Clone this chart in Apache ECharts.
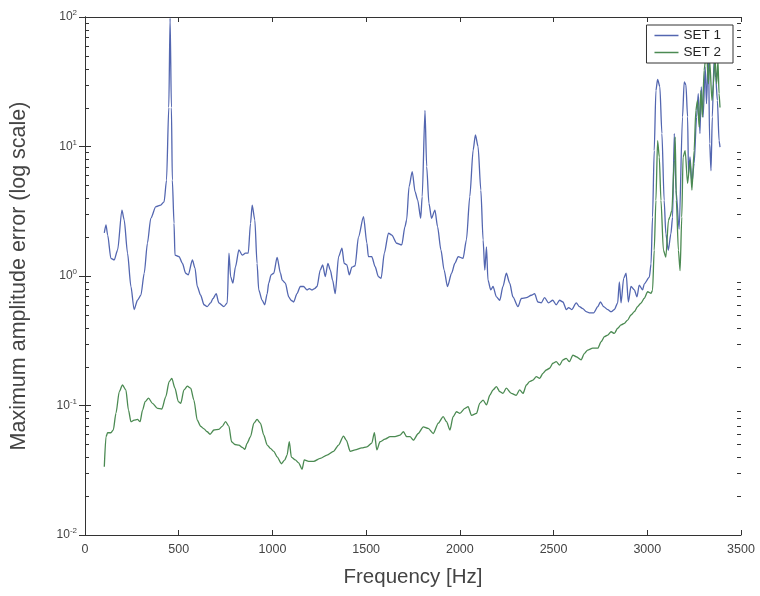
<!DOCTYPE html>
<html>
<head>
<meta charset="utf-8">
<script src="https://cdn.jsdelivr.net/npm/echarts@6/dist/echarts.min.js"></script>
<style>
html,body{margin:0;padding:0;background:#fff;}
#c{width:760px;height:596px;}
</style>
</head>
<body>
<div id="c"></div>
<script>
// ---- data ----
const freq1 = [103,112,121,138,156,174,197,209,227,245,262,280,298,316,333,351,378,404,422,435,447,454,461,466,475,480,502,520,537,551,573,587,599,617,635,652,670,683,700,714,741,759,768,777,789,803,821,839,856,871,883,892,906,918,927,945,959,972,980,993,1007,1025,1043,1052,1069,1087,1099,1113,1131,1149,1166,1184,1197,1211,1225,1238,1255,1268,1282,1296,1309,1321,1335,1353,1371,1383,1397,1410,1424,1441,1459,1486,1504,1512,1530,1548,1565,1580,1597,1619,1637,1663,1690,1707,1716,1729,1746,1761,1775,1791,1799,1814,1823,1835,1849,1867,1881,1899,1916,1934,1956,1973,1991,2017,2035,2053,2071,2083,2097,2112,2124,2133,2142,2150,2165,2177,2195,2213,2230,2248,2266,2283,2310,2328,2355,2381,2399,2416,2434,2452,2473,2496,2514,2532,2550,2568,2580,2597,2621,2638,2656,2674,2691,2714,2736,2750,2767,2789,2807,2824,2842,2851,2860,2874,2887,2899,2913,2931,2945,2957,2975,2984,3011,3020,3028,3037,3046,3055,3067,3078,3090,3099,3112,3126,3135,3144,3153,3170,3188,3197,3206,3215,3220,3228,3238,3250,3263,3272,3281,3288,3298,3309,3316,3326,3333,3340,3347,3356,3365,3374,3383,3388];
const set1 = [2.15,2.48,2.07,1.37,1.33,1.59,3.23,2.71,1.5,0.83,0.55,0.65,0.71,1.05,1.79,2.79,3.43,3.53,3.74,5.5,20,98,20,5.5,2.55,1.45,1.41,1.25,1.05,1.02,1.33,1.15,0.83,0.71,0.6,0.58,0.62,0.67,0.73,0.62,0.58,0.62,1.5,0.99,0.88,1.18,1.59,1.45,1.5,1.5,2.55,3.53,2.71,1.25,0.78,0.65,0.6,0.73,0.88,1.02,1.05,1.39,1.05,0.93,0.88,0.69,0.65,0.63,0.73,0.83,0.83,0.78,0.8,0.78,0.8,0.83,1.11,1.22,0.99,1.25,1.11,0.93,0.73,1.41,1.64,1.25,1.22,1.02,1.17,1.2,2.0,2.87,1.79,1.41,1.41,1.18,0.99,0.96,1.5,2.14,2.07,1.79,1.74,2.4,2.71,4.9,6.4,4.48,3.86,2.79,4.1,19,7,3.64,2.79,3.23,2.4,1.59,1.11,0.83,1.05,1.25,1.41,1.37,1.9,4.1,9.4,12.3,10,4.6,1.9,1.11,1.68,0.93,0.78,0.83,0.69,0.65,0.83,1.05,0.88,0.69,0.58,0.67,0.68,0.71,0.73,0.63,0.62,0.68,0.62,0.65,0.6,0.65,0.63,0.55,0.57,0.55,0.62,0.58,0.56,0.53,0.52,0.52,0.58,0.63,0.58,0.55,0.53,0.55,0.62,0.9,0.62,0.96,1.05,0.63,0.83,0.78,0.69,0.85,0.78,0.87,0.98,1.24,2.85,9.3,27,33,29,12.6,3.84,2.12,1.58,2.12,2.85,12.6,4.6,2.3,16.9,31.6,30,17,6.2,8.3,5.2,7.4,16.9,25.6,12.6,28.8,16.9,41,21.4,55,10.5,6.5,16.9,46,34,22.7,11.1,9.9];
const freq2 = [103,112,121,138,151,165,183,200,218,232,245,262,280,294,307,321,339,360,387,410,431,449,463,480,498,511,528,546,564,581,599,617,635,652,667,688,714,732,750,768,782,800,821,839,853,865,883,901,918,936,954,972,989,1007,1025,1048,1065,1078,1090,1101,1122,1140,1158,1170,1193,1220,1255,1291,1326,1353,1379,1394,1415,1441,1477,1504,1530,1544,1557,1574,1601,1628,1654,1681,1699,1716,1734,1752,1778,1805,1831,1858,1885,1911,1929,1947,1964,1982,2000,2027,2044,2062,2089,2106,2124,2142,2160,2177,2195,2213,2230,2248,2275,2301,2319,2337,2355,2372,2390,2408,2426,2443,2461,2479,2496,2514,2532,2550,2567,2585,2603,2621,2647,2665,2682,2709,2736,2754,2771,2789,2807,2824,2842,2860,2878,2895,2913,2931,2948,2966,2984,3002,3020,3028,3037,3046,3055,3064,3073,3086,3099,3113,3120,3131,3144,3149,3155,3166,3175,3184,3191,3202,3215,3228,3238,3250,3259,3268,3277,3286,3294,3303,3316,3326,3333,3345,3353,3361,3370,3377,3383,3388];
const set2 = [0.0337,0.0574,0.0616,0.0616,0.0647,0.087,0.128,0.144,0.132,0.092,0.075,0.077,0.078,0.075,0.092,0.107,0.114,0.104,0.095,0.094,0.117,0.153,0.162,0.136,0.107,0.104,0.132,0.141,0.136,0.110,0.077,0.069,0.066,0.0627,0.060,0.0647,0.0655,0.069,0.075,0.069,0.0525,0.050,0.0495,0.0475,0.0458,0.0512,0.0574,0.073,0.078,0.073,0.059,0.0495,0.0466,0.0443,0.0401,0.0355,0.0378,0.0414,0.0525,0.040,0.038,0.036,0.0322,0.038,0.037,0.037,0.0391,0.0414,0.0443,0.0495,0.058,0.054,0.0443,0.0454,0.047,0.048,0.0512,0.0616,0.0454,0.0525,0.055,0.0574,0.0574,0.059,0.0627,0.0574,0.0574,0.054,0.0608,0.0685,0.0665,0.0608,0.073,0.082,0.075,0.0647,0.082,0.0895,0.087,0.095,0.098,0.084,0.087,0.104,0.110,0.101,0.120,0.132,0.140,0.128,0.124,0.136,0.124,0.120,0.132,0.124,0.144,0.153,0.157,0.167,0.162,0.177,0.188,0.194,0.212,0.218,0.205,0.225,0.231,0.218,0.245,0.238,0.225,0.253,0.268,0.277,0.277,0.311,0.340,0.350,0.371,0.360,0.395,0.419,0.431,0.457,0.500,0.530,0.579,0.616,0.673,0.756,0.735,0.775,1.58,3.84,11.1,8.3,3.84,1.58,1.40,2.69,2.85,3.2,7.8,11.8,3.84,1.58,1.1,2.85,8.3,9.3,5.2,7.8,4.6,9.3,19,22.7,14.1,27,16.9,38.8,55,30.5,46,22.7,30.5,49,30.5,46,25.6,20];
const xTicks = [0,500,1000,1500,2000,2500,3000,3500];
const yTicks = [0.01,0.1,1,10,100];
const minorMult = [2,3,4,5,6,7,8,9];
const seriesNames = ['SET 1','SET 2'];

const zip = (a,b) => a.map((x,i)=>[x,b[i]]);
const minorVals = [];
yTicks.slice(0,-1).forEach(d => minorMult.forEach(k => minorVals.push([0, k*d])));

const FONT = '"Liberation Sans", Arial, sans-serif';
const axisCol = '#333';
const blue = '#5366b0', green = '#4b8a52';

const chart = echarts.init(document.getElementById('c'), null, {renderer:'canvas'});
const supFmt = v => '{b|10}{s|' + Math.round(Math.log10(v)) + '}';
const labelRich = {
  b:{fontSize:12, color:'#444', fontFamily:FONT},
  s:{fontSize:8, color:'#444', fontFamily:FONT, padding:[0,0,8,0]}
};
const option = {
  backgroundColor:'#fff',
  animation:false,
  grid:{left:84, right:19, top:17, bottom:61, containLabel:false},
  legend:{
    data:seriesNames.map(n=>({name:n, icon:'rect'})), orient:'vertical', right:27, top:25,
    backgroundColor:'#fff', borderColor:'#333', borderWidth:1, borderRadius:0,
    padding:[3,12,3,8], itemGap:2, itemWidth:24, itemHeight:1.5,
    textStyle:{fontSize:13.5, color:'#222', fontFamily:FONT, lineHeight:15}
  },
  xAxis:[{
    type:'value', min:0, max:3500, interval:500, position:'bottom',
    name:'Frequency [Hz]', nameLocation:'middle', nameGap:32,
    nameTextStyle:{fontSize:20.5, color:'#444', fontFamily:FONT},
    axisLine:{show:true, lineStyle:{color:axisCol, width:1}},
    axisTick:{show:true, inside:true, length:5, lineStyle:{color:axisCol}},
    axisLabel:{fontSize:12.5, color:'#444', fontFamily:FONT, margin:8,
      formatter: v => xTicks.includes(v) ? String(v) : ''},
    splitLine:{show:false}
  },{
    type:'value', min:0, max:3500, interval:500, position:'top',
    axisLine:{show:true, lineStyle:{color:axisCol, width:1}},
    axisTick:{show:true, inside:true, length:5, lineStyle:{color:axisCol}},
    axisLabel:{show:false}, splitLine:{show:false}
  }],
  yAxis:[{
    type:'log', logBase:10, min:yTicks[0], max:yTicks[yTicks.length-1], position:'left',
    name:'Maximum amplitude error (log scale)', nameLocation:'middle', nameGap:55,
    nameTextStyle:{fontSize:21.5, color:'#444', fontFamily:FONT},
    axisLine:{show:true, lineStyle:{color:axisCol, width:1}},
    axisTick:{show:true, inside:true, length:6, lineStyle:{color:axisCol}},
    axisLabel:{formatter:supFmt, rich:labelRich, margin:8},
    splitLine:{show:false}
  },{
    type:'log', logBase:10, min:yTicks[0], max:yTicks[yTicks.length-1], position:'right',
    axisLine:{show:true, lineStyle:{color:axisCol, width:1}},
    axisTick:{show:true, inside:true, length:6, lineStyle:{color:axisCol}},
    axisLabel:{show:false}, splitLine:{show:false}
  }],
  series:[
    {name:seriesNames[0], type:'line', data:zip(freq1,set1), symbol:'none', smooth:0.25, smoothMonotone:'x',
     lineStyle:{color:blue, width:1.3}, itemStyle:{color:blue}, z:2},
    {name:seriesNames[1], type:'line', data:zip(freq2,set2), symbol:'none', smooth:0.25, smoothMonotone:'x',
     lineStyle:{color:green, width:1.3}, itemStyle:{color:green}, z:3},
    {name:'minorTicks', type:'custom', data:minorVals, silent:true, clip:false, z:5,
     encode:{x:0, y:1},
     renderItem:(params, api) => {
       const cs = params.coordSys;
       const y = Math.round(api.coord([0, api.value(1)])[1]) + 0.5;
       const st = {stroke:axisCol, lineWidth:1};
       return {type:'group', children:[
         {type:'line', shape:{x1:cs.x, y1:y, x2:cs.x+4, y2:y}, style:st},
         {type:'line', shape:{x1:cs.x+cs.width-4, y1:y, x2:cs.x+cs.width, y2:y}, style:st}
       ]};
     }}
  ]
};
chart.setOption(option);
</script>
</body>
</html>
